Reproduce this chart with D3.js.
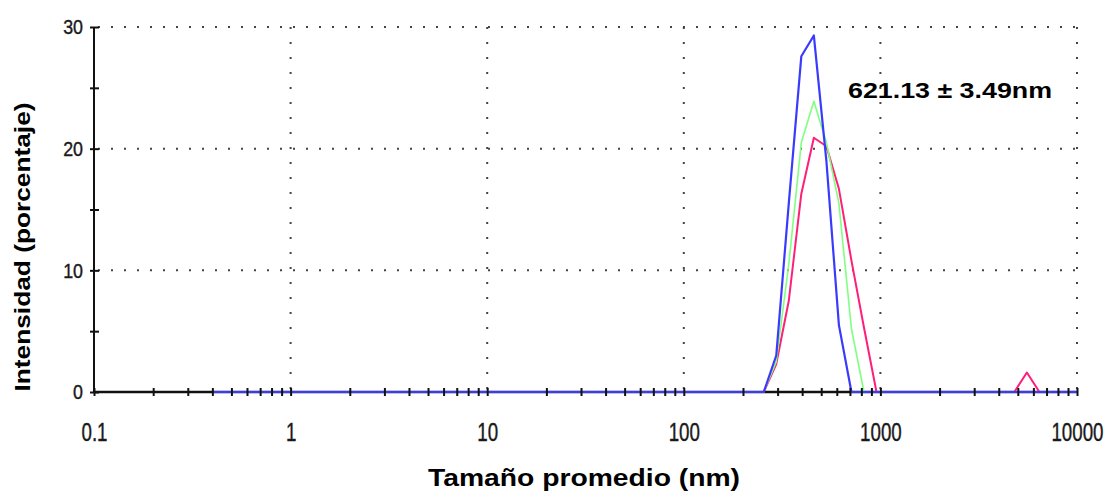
<!DOCTYPE html>
<html>
<head>
<meta charset="utf-8">
<script src="https://cdn.jsdelivr.net/npm/d3@7"></script>
<style>
    body { margin: 0; background: #fff; }
    .title { font-family: "Liberation Sans", Arial, sans-serif; font-weight: bold; fill: #000; }
    .tick text { font-family: "Liberation Sans", Arial, sans-serif; fill: #1a1a1a; stroke: #1a1a1a; stroke-width: 0.4px; }
</style>
</head>
<body>
<div id="chart"></div>
<script>
// tamaños (nm) y curvas de intensidad (%) de las tres medidas
let sizes     = [0.4, 255, 295.3, 342, 396.1, 458.7, 531.2, 615.1, 712.4, 825, 955.4, 4798, 5560, 6439, 10000];
let blueVals  = [0,   0,   3,     15.5, 27.6, 29.3, 19,    5.5,   0,     0,   0,     0,    0,    0,    0];
let greenVals = [0,   0,   2.5,   10.5, 20.5, 23.9, 20.5,  15.5,  5.2,   0,   0,     0,    0,    0,    0];
let redVals   = [0,   0,   2.3,   7.5,  16.3, 20.9, 20.2,  16.7,  10.8,  5.3, 0,     0,    1.6,  0,    0];

let xDecades = [1, 10, 100, 1000, 10000];
let yGrid = [10, 20, 30];
let yTicks = [0, 5, 10, 15, 20, 25, 30];

let series = [
    {name: 'red', values: redVals, color: '#ff1f78', width: 2},
    {name: 'green', values: greenVals, color: '#80ff80', width: 1.6},
    {name: 'blue', values: blueVals, color: '#3a3aff', width: 2.2}
];

let width = 1107, height = 498;

let svg = d3.select('#chart').append('svg')
    .attr('width', width)
    .attr('height', height);

let x = d3.scaleLog().domain([0.1, 10000]).range([94, 1077]);
let y = d3.scaleLinear().domain([0, 30]).range([392, 27]);

// dotted grid
svg.append('g').selectAll('line')
    .data(xDecades)
    .enter().append('line')
    .attr('x1', d => x(d)).attr('x2', d => x(d))
    .attr('y1', y(30)).attr('y2', y(0))
    .attr('stroke', '#444').attr('stroke-width', 2)
    .attr('stroke-dasharray', '2,13');

svg.append('g').selectAll('line')
    .data(yGrid)
    .enter().append('line')
    .attr('x1', x(0.1) + 4).attr('x2', x(10000))
    .attr('y1', d => y(d)).attr('y2', d => y(d))
    .attr('stroke', '#444').attr('stroke-width', 2)
    .attr('stroke-dasharray', '2,11');

// axis lines
svg.append('line')
    .attr('x1', x(0.1)).attr('x2', x(10000))
    .attr('y1', y(0)).attr('y2', y(0))
    .attr('stroke', '#111').attr('stroke-width', 2.5);
svg.append('line')
    .attr('x1', x(0.1)).attr('x2', x(0.1))
    .attr('y1', y(0)).attr('y2', y(30))
    .attr('stroke', '#111').attr('stroke-width', 2);

// curves
let line = d3.line()
    .x((d, i) => x(sizes[i]))
    .y(d => y(d));

series.forEach(s => {
    svg.append('path')
        .datum(s.values)
        .attr('fill', 'none')
        .attr('stroke', s.color)
        .attr('stroke-width', s.width)
        .attr('stroke-linejoin', 'round')
        .attr('d', line);
});

// x axis ticks (cross the axis line)
let xScaleX = 0.75;
let xAxis = d3.axisBottom(x)
    .tickValues(x.ticks())
    .tickSize(8)
    .tickPadding(27)
    .tickFormat(d => xDecades.concat([0.1]).includes(d) ? d3.format('~g')(d) : '');

let xAxisGroup = svg.append('g')
    .attr('transform', `translate(0, ${y(0) - 4})`)
    .call(xAxis);
xAxisGroup.select('.domain').remove();
xAxisGroup.selectAll('.tick line').attr('stroke', '#111').attr('stroke-width', 2);
xAxisGroup.selectAll('.tick text')
    .style('font-size', '25px')
    .attr('transform', `scale(${xScaleX},1)`);

// y axis ticks
let yScaleX = 0.85;
let yAxis = d3.axisLeft(y)
    .tickValues(yTicks)
    .tickSize(9)
    .tickPadding(7)
    .tickFormat(d => d % 10 === 0 ? d : '');

let yAxisGroup = svg.append('g')
    .attr('transform', `translate(${x(0.1) + 5}, 0)`)
    .call(yAxis);
yAxisGroup.select('.domain').remove();
yAxisGroup.selectAll('.tick line').attr('stroke', '#111').attr('stroke-width', 2);
yAxisGroup.selectAll('.tick text')
    .style('font-size', '21px')
    .attr('x', -16 / yScaleX)
    .attr('transform', `scale(${yScaleX},1)`);

// titles
svg.append('text')
    .attr('class', 'title')
    .attr('x', 584).attr('y', 486)
    .attr('text-anchor', 'middle')
    .style('font-size', '23px')
    .attr('textLength', 312).attr('lengthAdjust', 'spacingAndGlyphs')
    .text('Tamaño promedio (nm)');

svg.append('text')
    .attr('class', 'title')
    .attr('transform', 'translate(30, 247) rotate(-90)')
    .attr('text-anchor', 'middle')
    .style('font-size', '22px')
    .attr('textLength', 289).attr('lengthAdjust', 'spacingAndGlyphs')
    .text('Intensidad (porcentaje)');

svg.append('text')
    .attr('class', 'title')
    .attr('x', 848).attr('y', 98)
    .style('font-size', '22px')
    .attr('textLength', 204).attr('lengthAdjust', 'spacingAndGlyphs')
    .text('621.13 ± 3.49nm');
</script>
</body>
</html>
